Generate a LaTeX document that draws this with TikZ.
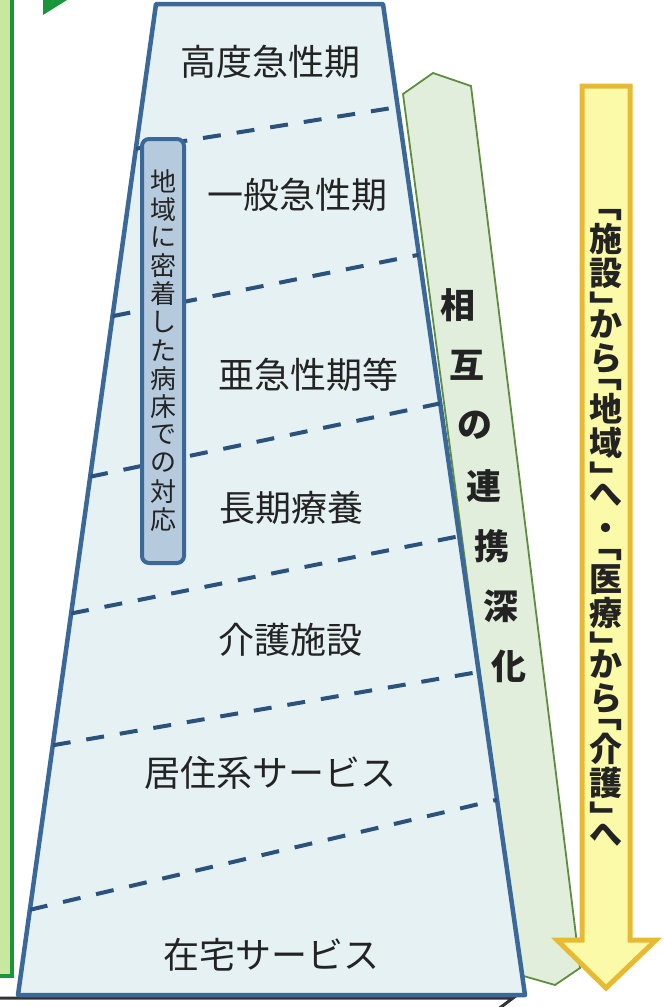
\documentclass[tikz,border=0pt]{standalone}
\usepackage{fontspec}
\setmainfont{Noto Sans CJK JP}
\usepackage{tikz}
\usetikzlibrary{calc}

\definecolor{panelgreen}{RGB}{25,150,60}
\definecolor{panelfill}{RGB}{200,232,160}
\definecolor{wardblue}{RGB}{58,104,152}
\definecolor{dashblue}{RGB}{42,82,125}
\definecolor{wardfill}{RGB}{229,241,243}
\definecolor{bedfill}{RGB}{182,202,222}
\definecolor{bandline}{RGB}{95,140,62}
\definecolor{bandfill}{RGB}{226,238,220}
\definecolor{arrowline}{RGB}{232,186,52}
\definecolor{arrowfill}{RGB}{250,250,168}
\definecolor{inkgray}{RGB}{35,35,35}

% one upright glyph per line, and half an em back for a bracket
\newcommand\stackchar[1]{\hbox to 34pt{\hss#1\hss}}
\newcommand\halfup{\vskip-17pt}

\tikzset{
  layer/.style={font=\fontsize{36}{40}\selectfont, text=inkgray, inner sep=0pt},
  bedchar/.style={font=\fontsize{26}{28}\selectfont, text=inkgray, inner sep=0pt},
  bandchar/.style={font=\fontsize{35}{38}\selectfont\bfseries, text=inkgray, inner sep=0pt},
  arrowtext/.style={font=\fontsize{33}{34}\selectfont\bfseries, text=inkgray, inner sep=0pt},
  divider/.style={draw=dashblue, line width=4pt, dash pattern=on 18pt off 16pt}
}

\begin{document}
\begin{tikzpicture}[x=1pt,y=-1pt]

\useasboundingbox (0,0) rectangle (664,1007);
\clip (0,0) rectangle (664,1007);

% left panel and floor line
\draw[panelgreen, line width=4pt, fill=panelfill] (-20,-20) rectangle (12,976);
\fill[panelgreen] (43,0) -- (67,0) -- (43,15) -- cycle;
\draw[black!80, line width=3pt] (0,998) -- (513,998) -- (497,1010);

% cooperation band
\coordinate (bandtop) at (433,73);
\coordinate (bandbot) at (555,985);
\draw[bandline, line width=1.8pt, fill=bandfill] (bandtop) -- (471,86) -- (580,968) -- (bandbot) -- (520,975) -- (403,94) -- cycle;

% ward trapezoid
\coordinate (tl) at (156,4);
\coordinate (tr) at (383,4);
\coordinate (br) at (525,995);
\coordinate (bl) at (18,995);
\draw[wardblue, line width=4.5pt, fill=wardfill, line join=round] (tl) -- (tr) -- (br) -- (bl) -- cycle;

\begin{scope}
\clip (tl) -- (tr) -- (br) -- (bl) -- cycle;
\foreach \l/\r in {0.146/0.104, 0.315/0.253, 0.477/0.403, 0.615/0.537, 0.748/0.674, 0.914/0.803}
  \draw[divider] ($(tl)!\l!(bl)$) -- ($(tr)!\r!(br)$);
\end{scope}

\node at (270,62) [layer] (acute) {高度急性期};
\node at (297,195) [layer] (general) {一般急性期};
\node at (308,375) [layer] (subacute) {亜急性期等};
\node at (291,508) [layer] (longterm) {長期療養};
\node at (290,640) [layer] (nursing) {介護施設};
\node at (270,773) [layer] (residential) {居住系サービス};
\node at (271,955) [layer] (home) {在宅サービス};

% local beds box
\node at (163,351) [rectangle, draw=wardblue, line width=4pt, fill=bedfill, rounded corners=7pt, minimum width=42pt, minimum height=424pt, inner sep=0pt] (localbed) {};
\foreach \c [count=\i from 0] in {地,域,に,密,着,し,た,病,床,で,の,対,応}
  \node at (163,181+28.2*\i) [bedchar] (bed\i) {\c};

% band text
\foreach \c [count=\i from 0] in {相,互,の,連,携,深,化}
  \node at (458+8.5*\i,305+60.3*\i) [bandchar] (band\i) {\c};

% shift arrow
\draw[arrowline, line width=5pt, fill=arrowfill, line join=miter] (582,86) -- (630,86) -- (630,940) -- (656,940) -- (606,988) -- (557,940) -- (582,940) -- cycle;
\node at (606,528) [arrowtext] (shift) {\vbox{\baselineskip=34pt\lineskiplimit=-100pt\lineskip=0pt
  \stackchar{﹁}\stackchar{施}\stackchar{設}\stackchar{﹂}\halfup\stackchar{か}\stackchar{ら}
  \halfup\stackchar{﹁}\stackchar{地}\stackchar{域}\stackchar{﹂}\halfup\stackchar{へ}\stackchar{・}
  \halfup\stackchar{﹁}\stackchar{医}\stackchar{療}\stackchar{﹂}\halfup\stackchar{か}\stackchar{ら}
  \halfup\stackchar{﹁}\stackchar{介}\stackchar{護}\stackchar{﹂}\halfup\stackchar{へ}}};

\end{tikzpicture}
\end{document}
